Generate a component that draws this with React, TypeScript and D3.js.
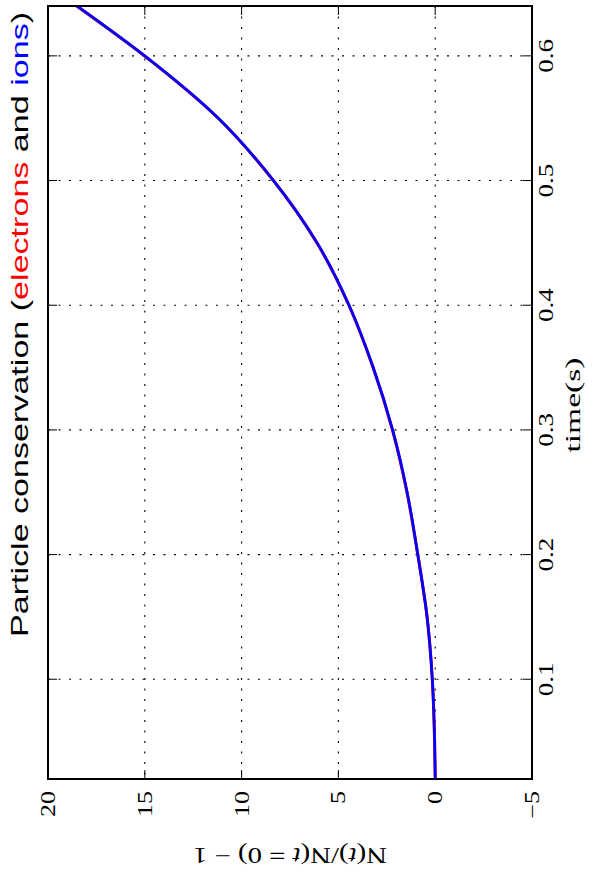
import React from "react";
import * as d3 from "d3";

// Data (time in seconds, relative particle number change)
const times = [0.02, 0.05, 0.1, 0.15, 0.2, 0.25, 0.3, 0.35, 0.4, 0.45, 0.5, 0.55, 0.6, 0.64];
const ions = [0, 0.03, 0.15, 0.42, 0.9, 1.45, 2.2, 3.2, 4.45, 6.1, 8.35, 11.2, 15.0, 18.5];
const electrons = [0, 0.03, 0.15, 0.42, 0.9, 1.46, 2.21, 3.21, 4.46, 6.11, 8.36, 11.21, 15.02, 18.52];
const timeTicks = [0.1, 0.2, 0.3, 0.4, 0.5, 0.6];
const nTicks = [20, 15, 10, 5, 0, -5];
const timeTickLabels = ["0.1", "0.2", "0.3", "0.4", "0.5", "0.6"];
const nTickLabels = ["20", "15", "10", "5", "0", "\u22125"];

const W = 597;
const H = 873;
const L = 48, R = 532, T = 6, B = 779;
const SERIF = "'Liberation Serif', 'DejaVu Serif', serif";
const SANS = "'Liberation Sans', Arial, sans-serif";

export default function App() {
  const x = d3.scaleLinear().domain([20, -5]).range([L, R]);
  const y = d3.scaleLinear().domain([0.02, 0.64]).range([B, T]);
  const line = d3
    .line<number>()
    .x((d) => x(d))
    .y((_, i) => y(times[i]))
    .curve(d3.curveMonotoneY);

  const tickLen = 9;
  const dash = "2,8.5";

  return (
    <svg width={W} height={H} style={{ position: "absolute", left: 0, top: 0, background: "#fff" }}>
      <defs>
        <clipPath id="plotclip">
          <rect x={L} y={T} width={R - L} height={B - T} />
        </clipPath>
      </defs>
      <rect x={0} y={0} width={W} height={H} fill="#fff" />
      {/* grid */}
      {nTicks.slice(1, -1).map((v) => (
        <line key={"gx" + v} x1={x(v)} x2={x(v)} y1={T} y2={B} stroke="#000" strokeWidth={1.1} strokeDasharray={dash} />
      ))}
      {timeTicks.map((v) => (
        <line key={"gy" + v} x1={L} x2={R} y1={y(v)} y2={y(v)} stroke="#000" strokeWidth={1.1} strokeDasharray={dash} />
      ))}
      {/* ticks */}
      {nTicks.map((v) => (
        <g key={"tx" + v}>
          <line x1={x(v)} x2={x(v)} y1={B} y2={B - tickLen} stroke="#000" strokeWidth={1} />
          <line x1={x(v)} x2={x(v)} y1={T} y2={T + tickLen} stroke="#000" strokeWidth={1} />
        </g>
      ))}
      {timeTicks.map((v) => (
        <g key={"ty" + v}>
          <line x1={L} x2={L + tickLen} y1={y(v)} y2={y(v)} stroke="#000" strokeWidth={1} />
          <line x1={R} x2={R - tickLen} y1={y(v)} y2={y(v)} stroke="#000" strokeWidth={1} />
        </g>
      ))}
      {/* curves */}
      <g clipPath="url(#plotclip)">
        <path d={line(electrons) || ""} fill="none" stroke="#ff0000" strokeWidth={3} />
        <path d={line(ions) || ""} fill="none" stroke="#0000ff" strokeWidth={2.8} />
      </g>
      {/* frame */}
      <rect x={L} y={T} width={R - L} height={B - T} fill="none" stroke="#000" strokeWidth={2} />
      {/* time tick labels (right) */}
      {timeTicks.map((v, i) => (
        <text
          key={"tl" + v}
          transform={`translate(553,${y(v)}) rotate(-90) scale(1.35,1)`}
          textAnchor="middle"
          fontFamily={SERIF}
          fontSize={20}
          fill="#000"
        >
          {timeTickLabels[i]}
        </text>
      ))}
      {/* N tick labels (bottom) */}
      {nTicks.map((v, i) => (
        <text
          key={"nl" + v}
          transform={`translate(${x(v) + 7},791) rotate(-90) scale(1.3,1)`}
          textAnchor="end"
          fontFamily={SERIF}
          fontSize={20}
          fill="#000"
        >
          {nTickLabels[i]}
        </text>
      ))}
      {/* time axis label */}
      <text
        transform={`translate(580,405) rotate(-90) scale(1.6,1)`}
        textAnchor="middle"
        fontFamily={SERIF}
        fontSize={21}
        fill="#000"
      >
        time(s)
      </text>
      {/* N axis label (upside down) */}
      <text
        transform={`translate(290,848) rotate(180) scale(1.2,1)`}
        textAnchor="middle"
        fontFamily={SERIF}
        fontSize={24}
        fill="#000"
      >
        N(<tspan fontStyle="italic">t</tspan>)/N(<tspan fontStyle="italic">t</tspan> = 0) {"\u2212"} 1
      </text>
      {/* title */}
      <text
        transform={`translate(28,637) rotate(-90) scale(1.42,1)`}
        textAnchor="start"
        fontFamily={SANS}
        fontSize={24}
        fill="#000"
      >
        Particle conservation (<tspan fill="#ff0000">electrons</tspan> and{" "}
        <tspan fill="#0000ff">ions</tspan>)
      </text>
    </svg>
  );
}
